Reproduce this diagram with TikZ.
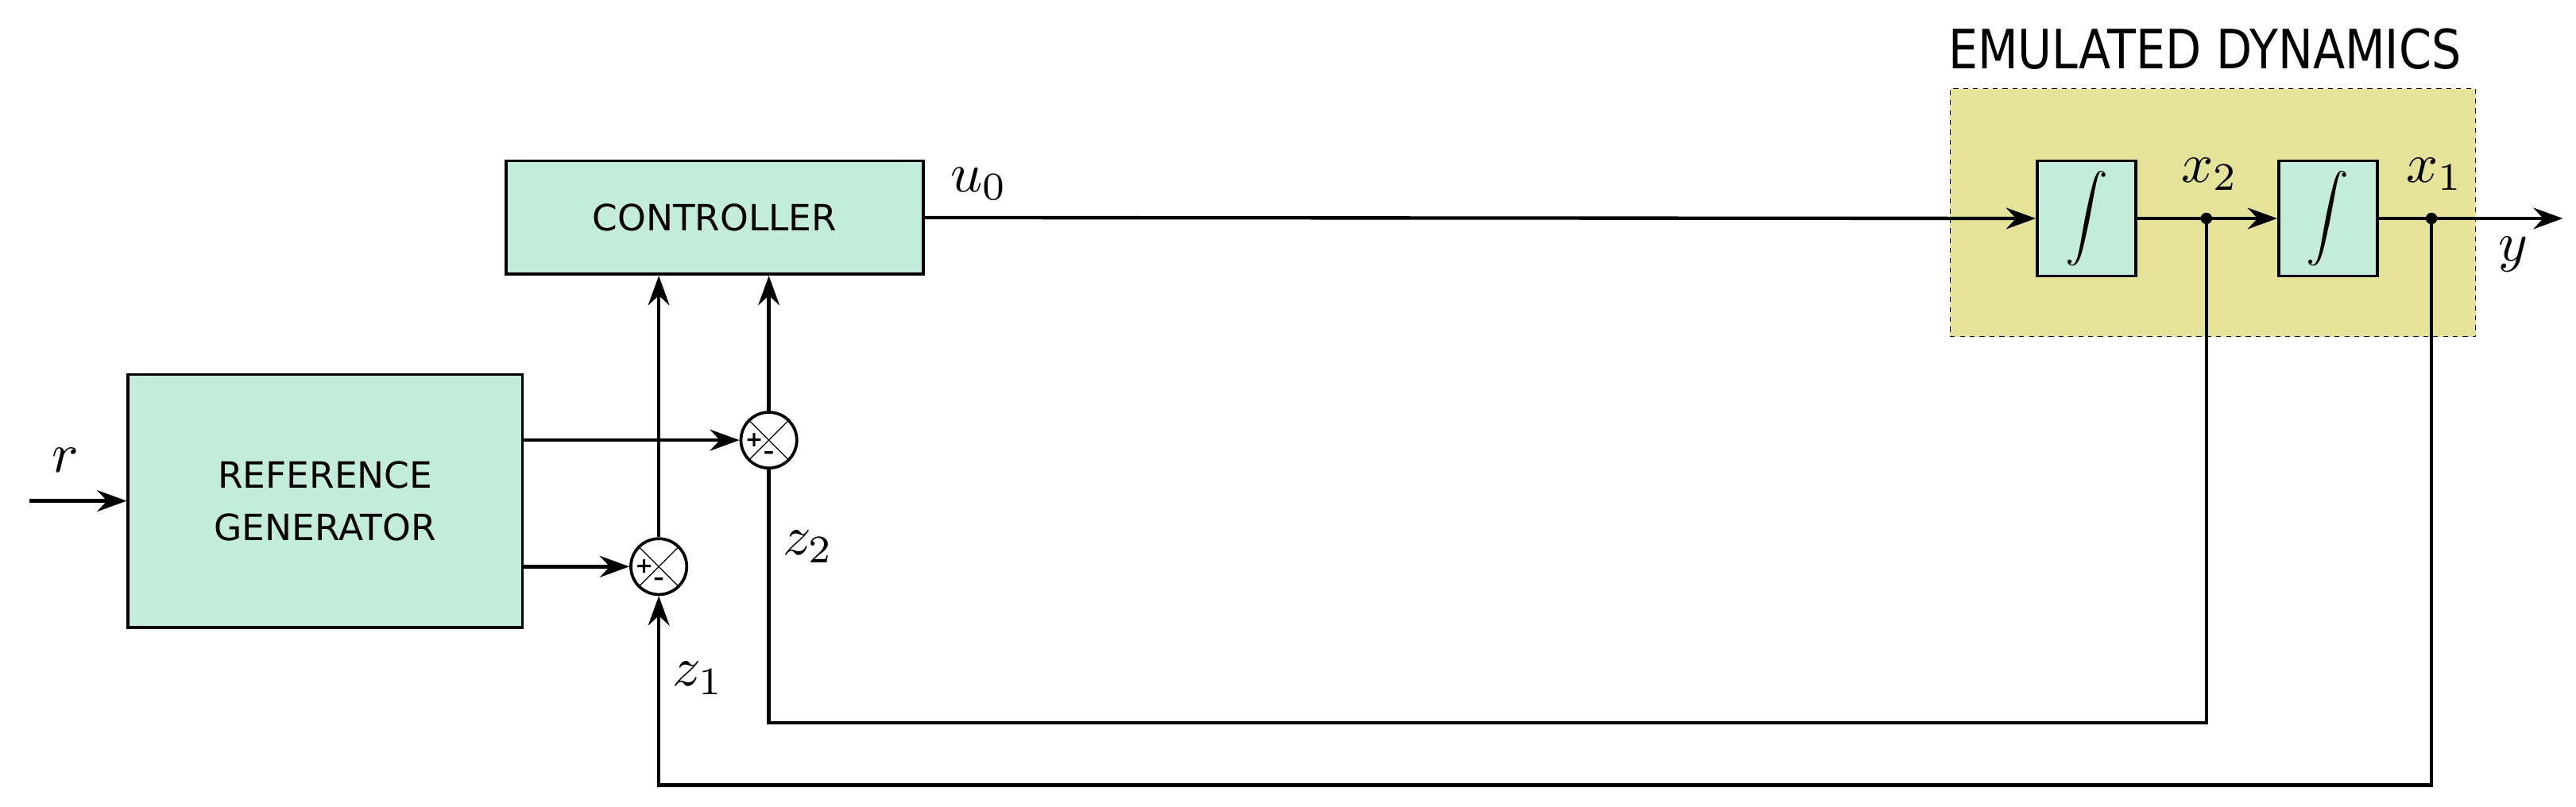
\documentclass[tikz,border=0pt]{standalone}
\usepackage{fontspec}
\setmainfont{DejaVu Sans}
\newfontfamily\titlefont[FakeStretch=0.86]{DejaVu Sans}
\usetikzlibrary{arrows.meta}
\definecolor{boxgreen}{HTML}{C3EDDA}
\definecolor{emuyellow}{HTML}{E5E39A}
\begin{document}
\begin{tikzpicture}[x=1pt,y=-1pt,
  blk/.style={draw,line width=1.8pt,fill=boxgreen,inner sep=0pt,align=center,font=\fontsize{22}{32}\selectfont},
  sumj/.style={draw,circle,line width=1.8pt,fill=white,minimum size=34pt,inner sep=0pt},
  sig/.style={line width=2.1pt},
  arr/.style={sig,-{Stealth[length=18pt,width=13pt,inset=6pt]}},
  lbl/.style={scale=3.4},
  dotn/.style={circle,fill=black,inner sep=0pt,minimum size=7pt}]
\useasboundingbox (0,0) rectangle (1568,491);
% emulated region
\node[draw,dashed,line width=0.5pt,fill=emuyellow,minimum width=320pt,minimum height=151pt,inner sep=0pt] (emu) at (1347,129.5) {};
\node[font=\titlefont\fontsize{33}{36}\selectfont,anchor=base] (title) at (1342,42) {EMULATED DYNAMICS};
% blocks
\node[blk,minimum width=254pt,minimum height=69pt] (ctrl) at (435,132.5) {CONTROLLER};
\node[blk,minimum width=240pt,minimum height=154pt] (rg) at (198,305) {REFERENCE\\GENERATOR};
\node[draw,line width=1.8pt,fill=boxgreen,minimum width=60pt,minimum height=70pt] (int1) at (1270,133) {};
\node[draw,line width=1.8pt,fill=boxgreen,minimum width=60pt,minimum height=70pt] (int2) at (1417,133) {};
\node[scale=2.6] at (int1.center) {$\displaystyle\int$};
\node[scale=2.6] at (int2.center) {$\displaystyle\int$};
% summing junctions
\foreach \n/\x/\y in {s2/468/268,s1/401/345}{
  \node[sumj] (\n) at (\x,\y) {};
  \draw[line width=0.6pt] (\n.45) -- (\n.225) (\n.135) -- (\n.315);
  \node[font=\fontsize{13}{13}\selectfont\bfseries] at ([xshift=-9pt]\n.center) {+};
  \node[font=\fontsize{13}{13}\selectfont\bfseries] at ([yshift=-9pt]\n.center) {--};
}
\node[dotn] (d2) at (1343,133) {};
\node[dotn] (d1) at (1480,133) {};
\coordinate (yend) at (1560,133);
\coordinate (rin) at (18,305);
\coordinate (c2) at (1343,440);
\coordinate (c2b) at (468,440);
\coordinate (c1) at (1480,478);
\coordinate (c1b) at (401,478);
% connectors
\draw[arr] (rin) -- (rg.west |- rin);
\draw[arr] (rg.east |- s2) -- (s2.west);
\draw[arr] (rg.east |- s1) -- (s1.west);
\draw[arr] (s1.north) -- (s1.north |- ctrl.south);
\draw[arr] (s2.north) -- (s2.north |- ctrl.south);
\draw[arr] (ctrl.east) -- (int1.west);
\draw[arr] (int1.east) -- (int2.west);
\draw[arr] (int2.east) -- (yend);
\draw[sig] (d2.center) -- (c2) -- (c2b) -- (s2.south);
\draw[arr] (d1.center) -- (c1) -- (c1b) -- (s1.south);
% labels
\node[lbl] (lr) at (40,280) {$r$};
\node[lbl] (lu) at (596,112) {$u_0$};
\node[lbl] (lx2) at (1345,106) {$x_2$};
\node[lbl] (lx1) at (1482,106) {$x_1$};
\node[lbl] (ly) at (1530,155) {$y$};
\node[lbl] (lz2) at (492,333) {$z_2$};
\node[lbl] (lz1) at (425,413) {$z_1$};
\end{tikzpicture}
\end{document}
